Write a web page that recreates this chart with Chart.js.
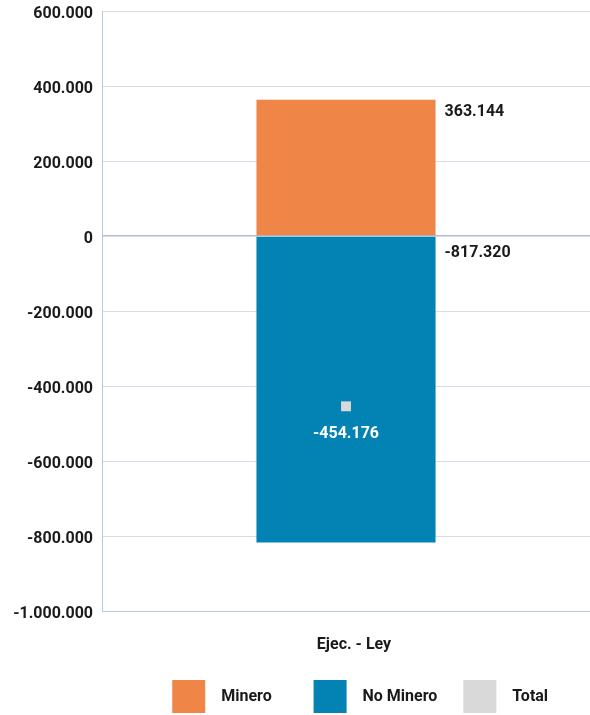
<!DOCTYPE html>
<html>
<head>
<meta charset="utf-8">
<script src="https://cdn.jsdelivr.net/npm/chart.js@4"></script>
<style>
  html, body { margin: 0; padding: 0; background: #fff; overflow: hidden; }
  #wrap { width: 590px; height: 715px; position: relative; }
  #wrap canvas { display: block; }
</style>
</head>
<body>
<div id="wrap"><canvas id="myChart"></canvas></div>
<script>
const categories = ["Ejec. - Ley"];
const mineroValues = [363144];
const noMineroValues = [-817320];
const totalValues = [-454176];
const yTicks = [600000, 400000, 200000, 0, -200000, -400000, -600000, -800000, -1000000];

const fontFamily = "Roboto, 'Noto Sans', sans-serif";

// 1234567 -> "1.234.567"
const fmt = (v) => {
    let s = Math.abs(Math.round(v)).toString().replace(/\B(?=(\d{3})+(?!\d))/g, ".");
    return (v < 0 ? "-" : "") + s;
};

// draws the value labels next to / under the marks
const valueLabels = {
    id: "valueLabels",
    afterDatasetsDraw(chart) {
        const ctx = chart.ctx;
        ctx.save();
        ctx.font = "bold 16px " + fontFamily;
        ctx.textBaseline = "middle";

        const mMeta = chart.getDatasetMeta(0);
        mMeta.data.forEach((bar, i) => {
            ctx.fillStyle = "#1a1a1a";
            ctx.textAlign = "left";
            ctx.fillText(fmt(mineroValues[i]), bar.x + bar.width / 2 + 9, bar.y + 12);
        });

        const nMeta = chart.getDatasetMeta(1);
        nMeta.data.forEach((bar, i) => {
            ctx.fillStyle = "#1a1a1a";
            ctx.textAlign = "left";
            ctx.fillText(fmt(noMineroValues[i]), bar.x + bar.width / 2 + 9, bar.base + 16);
        });

        const tMeta = chart.getDatasetMeta(2);
        tMeta.data.forEach((pt, i) => {
            ctx.fillStyle = "#ffffff";
            ctx.textAlign = "center";
            ctx.fillText(fmt(totalValues[i]), pt.x, pt.y + 28);
        });
        ctx.restore();
    }
};

const ctx = document.getElementById("myChart");

const myChart = new Chart(ctx, {
    type: "bar",
    data: {
        labels: categories,
        datasets: [
            {
                label: "Minero",
                data: mineroValues,
                backgroundColor: "#f08548",
                borderWidth: 0,
                barPercentage: 0.367,
                categoryPercentage: 1,
                order: 1
            },
            {
                label: "No Minero",
                data: noMineroValues,
                backgroundColor: "#0382b4",
                borderWidth: 0,
                barPercentage: 0.367,
                categoryPercentage: 1,
                order: 1
            },
            {
                type: "line",
                label: "Total",
                data: totalValues,
                stack: "total",
                showLine: false,
                backgroundColor: "#d9d9d9",
                borderColor: "#d9d9d9",
                borderWidth: 0,
                pointStyle: "rect",
                pointRadius: 7,
                pointHoverRadius: 7,
                order: 0
            }
        ]
    },
    options: {
        responsive: true,
        maintainAspectRatio: false,
        animation: false,
        layout: { autoPadding: false, padding: { top: 11, right: 0, left: 0, bottom: -8 } },
        scales: {
            x: {
                stacked: true,
                afterFit: (scale) => {
                    scale.paddingLeft = 0;
                    scale.paddingRight = 0;
                    scale.height = 43;
                },
                grid: { display: false, drawTicks: false },
                border: { color: "#b8c9dc", width: 1 },
                ticks: {
                    color: "#1a1a1a",
                    font: { family: fontFamily, size: 16, weight: "bold" },
                    padding: 24,
                    labelOffset: 8
                }
            },
            y: {
                stacked: true,
                min: -1000000,
                max: 600000,
                afterFit: (scale) => {
                    scale.width = 102;
                    scale.paddingTop = 0;
                    scale.paddingBottom = 0;
                },
                afterBuildTicks: (scale) => { scale.ticks = yTicks.map(v => ({ value: v })); },
                grid: {
                    drawTicks: false,
                    color: (c) => c.tick && c.tick.value === 0 ? "#aebfd3" : "#d3deea",
                    lineWidth: (c) => c.tick && c.tick.value === 0 ? 1.5 : 1
                },
                border: { color: "#b8c9dc", width: 1 },
                ticks: {
                    color: "#1a1a1a",
                    font: { family: fontFamily, size: 16, weight: "bold" },
                    padding: 9,
                    labelOffset: 3,
                    callback: (v) => fmt(v)
                }
            }
        },
        plugins: {
            legend: {
                position: "bottom",
                align: "end",
                labels: {
                    color: "#1a1a1a",
                    font: { family: fontFamily, size: 16, weight: "bold" },
                    boxWidth: 33,
                    boxHeight: 33,
                    padding: 26,
                    sort: (a, b) => a.datasetIndex - b.datasetIndex,
                    generateLabels: (chart) => {
                        const items = Chart.defaults.plugins.legend.labels.generateLabels(chart);
                        items.forEach((it, i) => {
                            const tail = i === items.length - 1 ? "" : "    ";
                            it.text = "  " + it.text + tail;
                            it.lineWidth = 0;
                            it.pointStyle = undefined;
                        });
                        return items;
                    }
                }
            },
            tooltip: { enabled: false }
        }
    },
    plugins: [valueLabels]
});
</script>
</body>
</html>
